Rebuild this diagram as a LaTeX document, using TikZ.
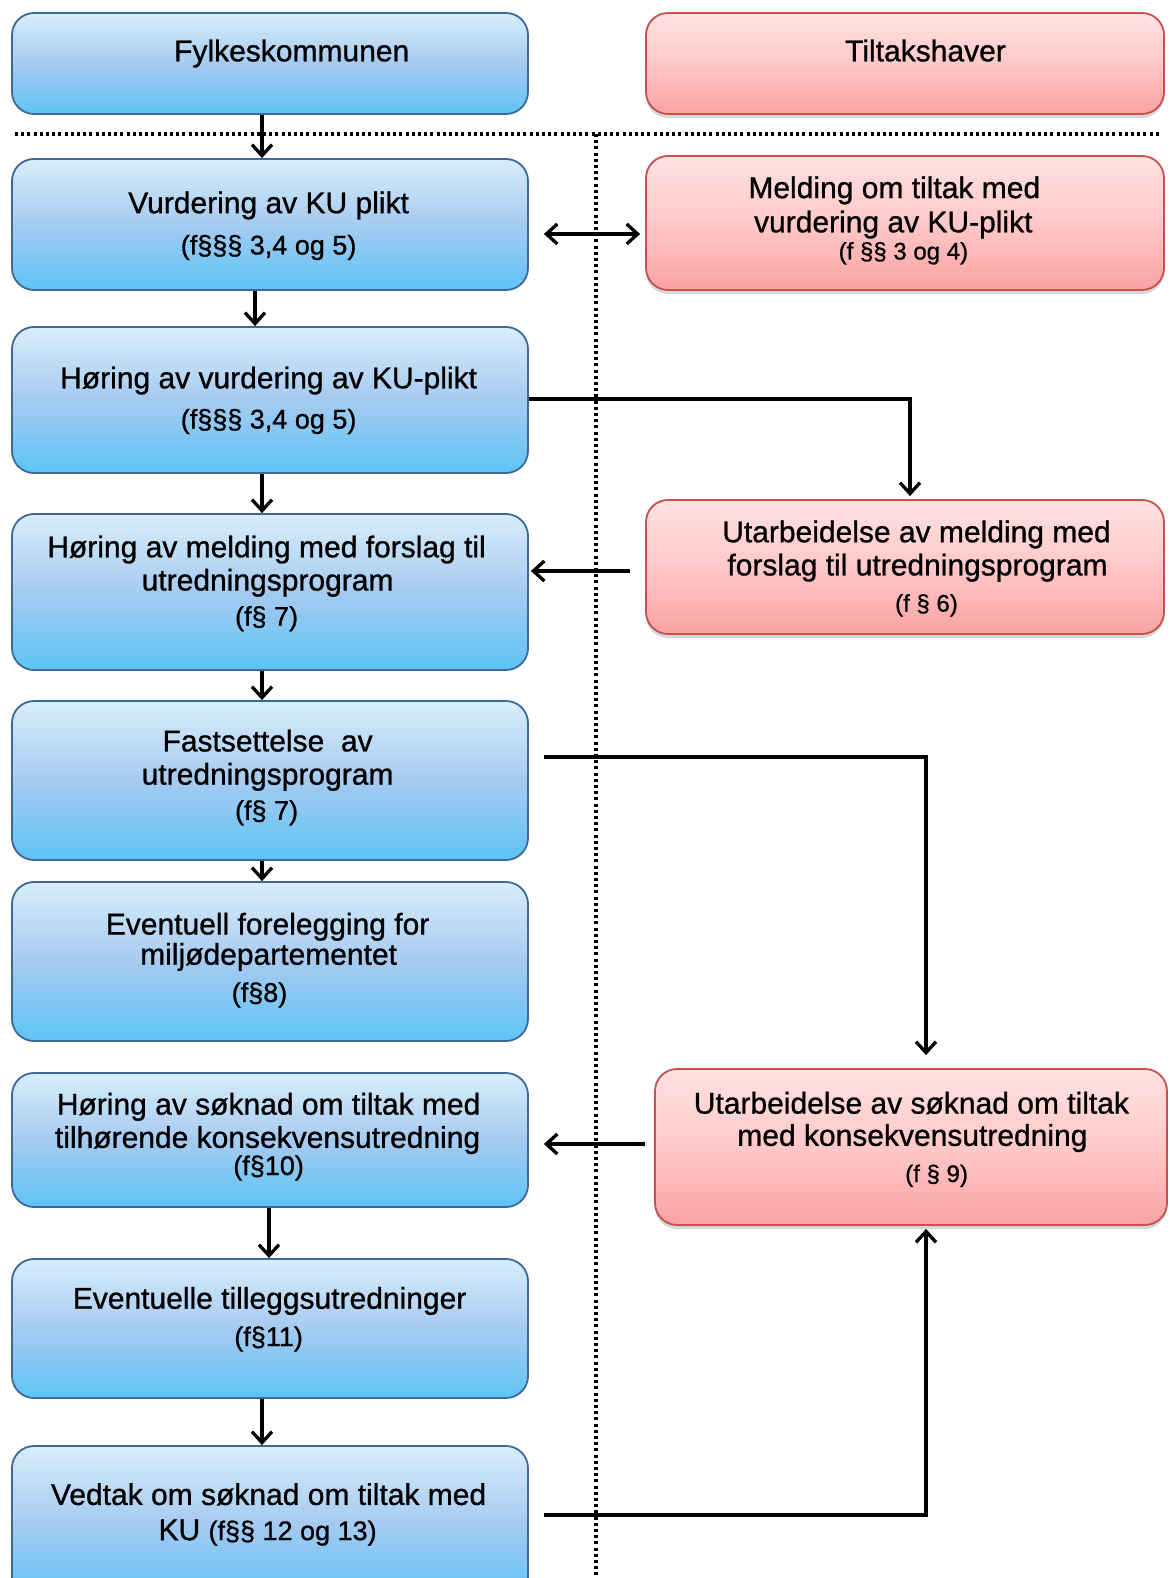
\documentclass[tikz,border=0pt]{standalone}
\usepackage{fontspec}
\setmainfont{Liberation Sans}[FakeBold=0.9]
\usetikzlibrary{arrows.meta,shadows,calc}
\definecolor{bTop}{RGB}{216,238,251}
\definecolor{bMid}{RGB}{166,202,240}
\definecolor{bBot}{RGB}{92,196,246}
\definecolor{bLine}{RGB}{62,104,152}
\definecolor{rTop}{RGB}{255,226,226}
\definecolor{rMid}{RGB}{255,200,200}
\definecolor{rBot}{RGB}{249,162,162}
\definecolor{rLine}{RGB}{200,80,80}
\begin{document}
\begin{tikzpicture}[x=1pt,y=-1pt,
  bluebox/.style={draw=bLine, line width=1.8pt, rounded corners=22pt,
    top color=bTop, bottom color=bBot, middle color=bMid,
    minimum width=516pt, inner sep=0pt},
  redbox/.style={draw=rLine, line width=1.8pt, rounded corners=22pt,
    top color=rTop, bottom color=rBot, middle color=rMid,
    drop shadow={shadow xshift=0pt, shadow yshift=-4pt, opacity=0.3},
    inner sep=0pt},
  txt/.style={anchor=base, inner sep=0pt, font=\fontsize{30}{34}\selectfont},
  ptxt/.style={anchor=base, inner sep=0pt, font=\fontsize{27}{30}\selectfont},
  sm/.style={anchor=base, inner sep=0pt, font=\fontsize{24}{28}\selectfont},
  arr/.style={line width=3.3pt, -{Straight Barb[length=11pt,width=20pt,line width=3.3pt]}},
  arrtwo/.style={line width=3.3pt, {Straight Barb[length=11pt,width=20pt,line width=3.3pt]}-{Straight Barb[length=11pt,width=20pt,line width=3.3pt]}},
  dotline/.style={line width=3.3pt, dash pattern=on 3pt off 3.2pt}
]
\clip (0,0) rectangle (1169,1578);
\fill[white] (0,0) rectangle (1169,1578);

% left column boxes
\node[bluebox, minimum height=101pt] (B0) at (270,63.5) {};
\node[bluebox, minimum height=131pt] (B1) at (270,224.5) {};
\node[bluebox, minimum height=146pt] (B2) at (270,400) {};
\node[bluebox, minimum height=156pt] (B3) at (270,592) {};
\node[bluebox, minimum height=159pt] (B4) at (270,780.5) {};
\node[bluebox, minimum height=159pt] (B5) at (270,961.5) {};
\node[bluebox, minimum height=134pt] (B6) at (270,1140) {};
\node[bluebox, minimum height=139pt] (B7) at (270,1328.5) {};
\node[bluebox, minimum height=154pt] (B8) at (270,1523) {};

% right column boxes
\node[redbox, minimum width=518pt, minimum height=101pt] (R0) at (905,63.5) {};
\node[redbox, minimum width=518pt, minimum height=134pt] (R1) at (905,223) {};
\node[redbox, minimum width=518pt, minimum height=134pt] (R2) at (905,567) {};
\node[redbox, minimum width=512pt, minimum height=156pt] (R3) at (911,1147) {};

% separators
\coordinate (hsL) at (15,134);
\coordinate (hsR) at (1160,134);
\coordinate (vsT) at (596,134);
\coordinate (vsB) at (596,1580);
\draw[dotline] (hsL) -- (hsR);
\draw[dotline] (vsT) -- (vsB);

% texts left
\node[txt] (t0) at (291.7,61.3) {Fylkeskommunen};
\node[txt] (t1a) at (268.6,213.2) {Vurdering av KU plikt};
\node[ptxt] (t1b) at (268.6,254.5) {(f§§§ 3,4 og 5)};
\node[txt] (t2a) at (268.6,388.3) {Høring av vurdering av KU-plikt};
\node[ptxt] (t2b) at (268.6,428.5) {(f§§§ 3,4 og 5)};
\node[txt] (t3a) at (266.6,557.3) {Høring av melding med forslag til};
\node[txt] (t3b) at (267.6,590.5) {utredningsprogram};
\node[ptxt] (t3c) at (266.6,625.7) {(f§ 7)};
\node[txt] (t4a) at (267.6,751.4) {Fastsettelse~ av};
\node[txt] (t4b) at (267.6,784.6) {utredningsprogram};
\node[ptxt] (t4c) at (266.6,819.8) {(f§ 7)};
\node[txt] (t5a) at (267.6,934.5) {Eventuell forelegging for};
\node[txt] (t5b) at (268.6,964.7) {miljødepartementet};
\node[ptxt] (t5c) at (259.5,1001.9) {(f§8)};
\node[txt] (t6a) at (268.6,1114.6) {Høring av søknad om tiltak med};
\node[txt] (t6b) at (267.6,1147.8) {tilhørende konsekvensutredning};
\node[ptxt] (t6c) at (268.6,1175) {(f§10)};
\node[txt] (t7a) at (269.6,1308.7) {Eventuelle tilleggsutredninger};
\node[ptxt] (t7b) at (268.6,1346) {(f§11)};
\node[txt] (t8a) at (268.6,1504.9) {Vedtak om søknad om tiltak med};
\node[txt] (t8b) at (267.6,1540.1) {KU {\fontsize{27}{30}\selectfont(f§§ 12 og 13)}};

% texts right
\node[txt] (s0) at (925.5,61.3) {Tiltakshaver};
\node[txt] (s1a) at (894.3,198.1) {Melding om tiltak med};
\node[txt] (s1b) at (893.3,232.3) {vurdering av KU-plikt};
\node[sm] (s1c) at (903.4,259.5) {(f §§ 3 og 4)};
\node[txt] (s2a) at (916.5,542.2) {Utarbeidelse av melding med};
\node[txt] (s2b) at (917.5,575.4) {forslag til utredningsprogram};
\node[sm] (s2c) at (926.5,611.6) {(f § 6)};
\node[txt] (s3a) at (911.4,1113.6) {Utarbeidelse av søknad om tiltak};
\node[txt] (s3b) at (912.4,1145.8) {med konsekvensutredning};
\node[sm] (s3c) at (936.6,1182) {(f § 9)};

% vertical flow arrows
\draw[arr] ([xshift=-8pt]B0.south) -- ([xshift=-8pt]B1.north);
\draw[arr] ([xshift=-15pt]B1.south) -- ([xshift=-15pt]B2.north);
\draw[arr] ([xshift=-8pt]B2.south) -- ([xshift=-8pt]B3.north);
\draw[arr] ([xshift=-8pt]B3.south) -- ([xshift=-8pt]B4.north);
\draw[arr] ([xshift=-8pt]B4.south) -- ([xshift=-8pt]B5.north);
\draw[arr] ([xshift=-1pt]B6.south) -- ([xshift=-1pt]B7.north);
\draw[arr] ([xshift=-8pt]B7.south) -- ([xshift=-8pt]B8.north);

% cross arrows
\draw[arrtwo] ([xshift=15pt,yshift=-9.5pt]B1.east) -- ([xshift=-5pt,yshift=-11pt]R1.west);
\draw[arr] ([yshift=1pt]B2.east) -| ([xshift=5pt,yshift=3pt]R2.north);
\draw[arr] ([xshift=-15pt,yshift=-4pt]R2.west) -- ([xshift=2pt,yshift=21pt]B3.east);
\draw[arr] ([xshift=15pt,yshift=23.5pt]B4.east) -| ([xshift=15pt,yshift=13pt]R3.north);
\draw[arr] ([xshift=-9pt,yshift=3pt]R3.west) -- ([xshift=15pt,yshift=-4pt]B6.east);
\draw[arr] ([xshift=15pt,yshift=8pt]B8.east) -| ([xshift=15pt,yshift=-3pt]R3.south);
\end{tikzpicture}
\end{document}
